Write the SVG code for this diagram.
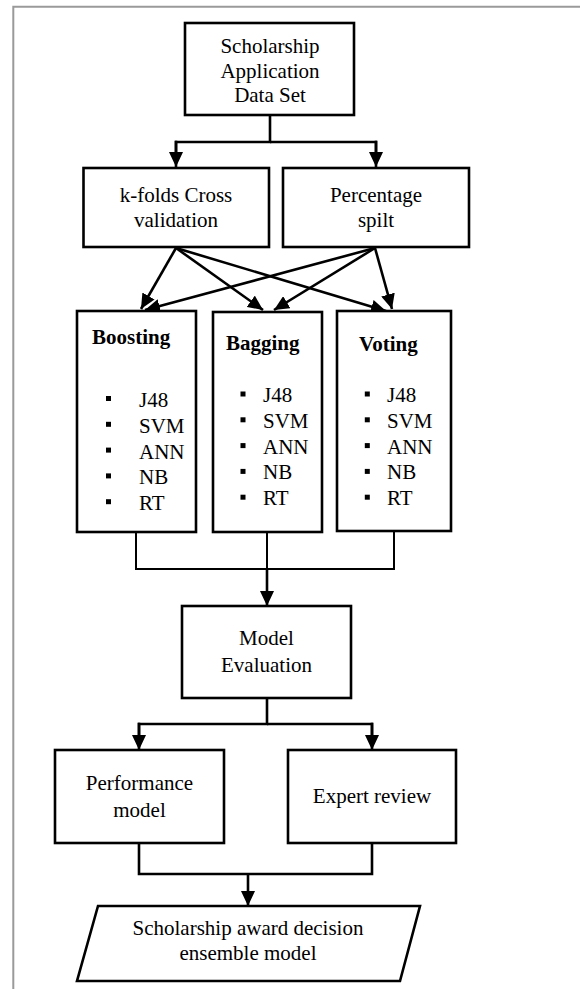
<svg xmlns="http://www.w3.org/2000/svg" width="580" height="989" viewBox="0 0 580 989">
<defs>
<marker id="ah" viewBox="0 0 15 14" refX="15" refY="7" markerWidth="15" markerHeight="14" markerUnits="userSpaceOnUse" orient="auto">
<path d="M0,0 L15,7 L0,14 z" fill="#000"/>
</marker>
<style>
.box{fill:#fff;stroke:#000;stroke-width:2.6}
.t{font-family:"Liberation Serif","Times New Roman",serif;font-size:21px;fill:#000}
.c{text-anchor:middle}
.b{font-weight:bold}
.bul{fill:#000}
.con{fill:none;stroke:#000;stroke-width:2.6}
.thin{fill:none;stroke:#000;stroke-width:2}
.arr{fill:none;stroke:#000;stroke-width:2.6;marker-end:url(#ah)}
</style>
</defs>
<rect width="580" height="989" fill="#fff"/>
<path d="M13.3,989 V6.7 H580" fill="none" stroke="#9a9a9a" stroke-width="2"/>

<g id="connectors">
<path class="con" d="M270,115 V142 H176 V152"/>
<path class="con" d="M270,142 H376 V152"/>
<path class="arr" d="M176,140.7 V167"/>
<path class="arr" d="M376,140.7 V167"/>
<path class="arr" d="M176,248 L141,309"/>
<path class="arr" d="M176,248 L263,310"/>
<path class="arr" d="M176,248 L386,311"/>
<path class="arr" d="M375,248 L145,310"/>
<path class="arr" d="M375,248 L274,310"/>
<path class="arr" d="M375,248 L392,309"/>
<path class="thin" d="M136,532 V569 H394 V531"/>
<path class="thin" d="M267,532 V569"/>
<path class="arr" d="M267,568 V606"/>
<path class="con" d="M267,698 V724 H139 V735"/>
<path class="con" d="M267,724 H372 V735"/>
<path class="arr" d="M139,722.7 V750"/>
<path class="arr" d="M372,722.7 V750"/>
<path class="con" d="M139,843 V874 H372 V843"/>
<path class="arr" d="M248,874 V906"/>
</g>

<g id="dataset">
<rect class="box" x="185" y="23" width="169" height="92"/>
<text class="t c" x="270" y="53">Scholarship</text>
<text class="t c" x="270" y="77.5">Application</text>
<text class="t c" x="270" y="102">Data Set</text>
</g>

<g id="kfolds">
<rect class="box" x="83.5" y="168" width="185.5" height="79"/>
<text class="t c" x="176" y="202">k-folds Cross</text>
<text class="t c" x="176" y="227">validation</text>
</g>

<g id="percentage">
<rect class="box" x="283" y="168" width="186" height="79"/>
<text class="t c" x="376" y="202">Percentage</text>
<text class="t c" x="376" y="227">spilt</text>
</g>

<g id="boosting">
<rect class="box" x="77" y="311" width="119" height="221"/>
<text class="t b" x="92" y="344">Boosting</text>
<rect class="bul" x="106" y="396" width="5" height="5"/>
<rect class="bul" x="106" y="421.8" width="5" height="5"/>
<rect class="bul" x="106" y="447.6" width="5" height="5"/>
<rect class="bul" x="106" y="473.4" width="5" height="5"/>
<rect class="bul" x="106" y="499.2" width="5" height="5"/>
<text class="t" x="139" y="407">J48</text>
<text class="t" x="139" y="432.8">SVM</text>
<text class="t" x="139" y="458.6">ANN</text>
<text class="t" x="139" y="484.4">NB</text>
<text class="t" x="139" y="510.2">RT</text>
</g>

<g id="bagging">
<rect class="box" x="213" y="312" width="109" height="220"/>
<text class="t b" x="226" y="350">Bagging</text>
<rect class="bul" x="240.5" y="391.5" width="5" height="5"/>
<rect class="bul" x="240.5" y="417.3" width="5" height="5"/>
<rect class="bul" x="240.5" y="443.1" width="5" height="5"/>
<rect class="bul" x="240.5" y="468.9" width="5" height="5"/>
<rect class="bul" x="240.5" y="494.7" width="5" height="5"/>
<text class="t" x="263" y="402">J48</text>
<text class="t" x="263" y="427.8">SVM</text>
<text class="t" x="263" y="453.6">ANN</text>
<text class="t" x="263" y="479.4">NB</text>
<text class="t" x="263" y="505.2">RT</text>
</g>

<g id="voting">
<rect class="box" x="337" y="311" width="114" height="220"/>
<text class="t b" x="359" y="351">Voting</text>
<rect class="bul" x="364.8" y="391.5" width="5" height="5"/>
<rect class="bul" x="364.8" y="417.3" width="5" height="5"/>
<rect class="bul" x="364.8" y="443.1" width="5" height="5"/>
<rect class="bul" x="364.8" y="468.9" width="5" height="5"/>
<rect class="bul" x="364.8" y="494.7" width="5" height="5"/>
<text class="t" x="387" y="402">J48</text>
<text class="t" x="387" y="427.8">SVM</text>
<text class="t" x="387" y="453.6">ANN</text>
<text class="t" x="387" y="479.4">NB</text>
<text class="t" x="387" y="505.2">RT</text>
</g>

<g id="evaluation">
<rect class="box" x="182" y="606" width="169" height="92"/>
<text class="t c" x="266.5" y="645">Model</text>
<text class="t c" x="266.5" y="672">Evaluation</text>
</g>

<g id="performance">
<rect class="box" x="55" y="750" width="169" height="93"/>
<text class="t c" x="139.5" y="790">Performance</text>
<text class="t c" x="139.5" y="817">model</text>
</g>

<g id="expert">
<rect class="box" x="288" y="750" width="168" height="93"/>
<text class="t c" x="372" y="803">Expert review</text>
</g>

<g id="decision">
<polygon class="box" points="98,906 420,906 400,981 77,981"/>
<text class="t c" x="248" y="935">Scholarship award decision</text>
<text class="t c" x="248" y="960">ensemble model</text>
</g>
</svg>
